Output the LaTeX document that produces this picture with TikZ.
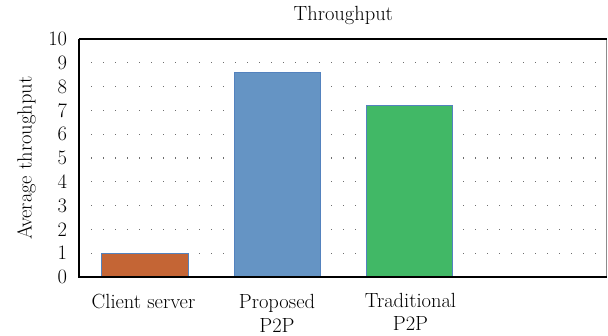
\documentclass[tikz,border=0pt]{standalone}
\usepackage{fontspec}
\definecolor{barorange}{HTML}{C46535}
\definecolor{barblue}{HTML}{6594C4}
\definecolor{bargreen}{HTML}{41B866}
\definecolor{baredge}{HTML}{5382BE}
\definecolor{dotgray}{HTML}{6E6E6E}
\definecolor{framegray}{HTML}{8C8C8C}
\begin{document}
\begin{tikzpicture}[x=1pt,y=-1pt,
  every node/.style={font=\fontsize{20.5}{24}\selectfont, inner sep=0pt},
  gridrow/.style={dotgray, line width=1.1pt, dash pattern=on 1.2pt off 10.8pt, dash phase=1.9pt},
  barbox/.style={draw=baredge, line width=0.9pt},
  axisline/.style={black, line width=1.3pt},
  ticklabel/.style={anchor=east},
  catlabel/.style={anchor=base}]
  \useasboundingbox (0,0) rectangle (608,336);
  % value v sits at y = 277 - 23.8 v
  \def\base{277}
  \def\unit{23.8}

  % dotted horizontal grid
  \foreach \v in {1,...,9}
    \draw[gridrow] (81,{\base-\unit*\v}) -- (606,{\base-\unit*\v});

  % bars
  \draw[barbox, fill=barorange] (101,\base) rectangle (188,{\base-\unit*1.0});
  \draw[barbox, fill=barblue]   (234,\base) rectangle (320,{\base-\unit*8.6});
  \draw[barbox, fill=bargreen]  (366.7,\base) rectangle (452.7,{\base-\unit*7.2});

  % frame and axes
  \draw[framegray, line width=1pt] (606.7,39) -- (606.7,\base);
  \draw[axisline] (79,39) -- (606.7,39);
  \draw[axisline] (79,39) -- (79,\base) -- (606.7,\base);

  % tick labels
  \foreach \v in {0,...,10}
    \node[ticklabel] (t\v) at (67.3,{\base-\unit*\v}) {\v};

  % title and axis title
  \node[catlabel] (title) at (343.3,20.7) {Throughput};
  \node[catlabel, rotate=90] (ylab) at (31.7,158.3) {Average throughput};

  % category labels
  \node[catlabel] (c1) at (143.5,309) {Client server};
  \node[catlabel] (c2a) at (277,309) {Proposed};
  \node[catlabel] (c2b) at (277,332.5) {P2P};
  \node[catlabel] (c3a) at (410.5,308) {Traditional};
  \node[catlabel] (c3b) at (410.5,330.5) {P2P};
\end{tikzpicture}
\end{document}
